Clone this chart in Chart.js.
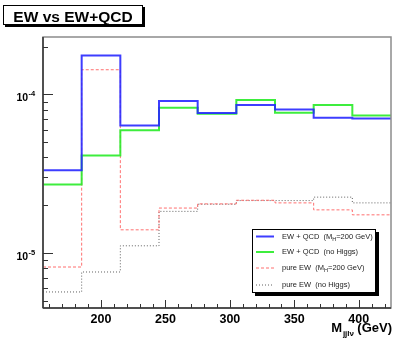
<!DOCTYPE html>
<html>
<head>
<meta charset="utf-8">
<script src="https://cdn.jsdelivr.net/npm/chart.js@4/dist/chart.umd.min.js"></script>
<style>
html, body { margin: 0; padding: 0; background: #fff; }
</style>
</head>
<body>
<canvas id="c" width="407" height="343"></canvas>
<script>
// bin edges in GeV, 9 bins of 30 GeV
const binEdges = [155, 185, 215, 245, 275, 305, 335, 365, 395, 425];

const ewQcdHiggs    = [3.32e-5, 1.76e-4, 6.37e-5, 9.07e-5, 7.62e-5, 8.56e-5, 8.04e-5, 7.13e-5, 7.05e-5];
const ewQcdNoHiggs  = [2.70e-5, 4.12e-5, 5.95e-5, 8.24e-5, 7.55e-5, 9.20e-5, 7.66e-5, 8.56e-5, 7.37e-5];
const pureEwHiggs   = [8.16e-6, 1.43e-4, 1.40e-5, 1.92e-5, 2.04e-5, 2.15e-5, 2.07e-5, 1.87e-5, 1.74e-5];
const pureEwNoHiggs = [5.68e-6, 7.59e-6, 1.11e-5, 1.83e-5, 2.03e-5, 2.14e-5, 2.14e-5, 2.25e-5, 2.07e-5];

const xTicks  = [160, 170, 180, 190, 200, 210, 220, 230, 240, 250, 260, 270, 280, 290, 300,
                 310, 320, 330, 340, 350, 360, 370, 380, 390, 400, 410, 420];
const xLabels = [200, 250, 300, 350, 400];
const yTicks  = [5e-6, 6e-6, 7e-6, 8e-6, 9e-6,
                 1e-5, 2e-5, 3e-5, 4e-5, 5e-5, 6e-5, 7e-5, 8e-5, 9e-5,
                 1e-4, 2e-4];
const yLabels = [{ value: 1e-5, exp: '-5' }, { value: 1e-4, exp: '-4' }];

const FONT = '"Liberation Sans", Arial, Helvetica, sans-serif';

// histogram as step line: value i holds from edge i to edge i+1
const histo = vals => binEdges.map((x, i) => ({ x, y: vals[Math.min(i, vals.length - 1)] }));

function line(ctx, x1, y1, x2, y2) {
    ctx.beginPath(); ctx.moveTo(x1, y1); ctx.lineTo(x2, y2); ctx.stroke();
}

const rootStyle = {
    id: 'rootStyle',
    afterDatasetsDraw(chart) {
        const { ctx, chartArea: a, scales: { x, y } } = chart;
        ctx.save();
        ctx.strokeStyle = '#8c8c8c'; ctx.lineWidth = 1.5;
        ctx.strokeRect(a.left, a.top, a.right - a.left, a.bottom - a.top);
        ctx.strokeStyle = '#333'; ctx.lineWidth = 1.5;
        line(ctx, a.left, a.top, a.left, a.bottom);
        line(ctx, a.left, a.bottom, a.right, a.bottom);

        ctx.lineWidth = 1;
        for (const t of x.ticks) {
            const px = Math.round(x.getPixelForValue(t.value)) + .5;
            const len = xLabels.includes(t.value) ? 8 : 4;
            line(ctx, px, a.bottom, px, a.bottom - len);
        }
        ctx.fillStyle = '#000';
        for (const t of y.ticks) {
            const py = Math.round(y.getPixelForValue(t.value)) + .5;
            const lab = yLabels.find(l => l.value === t.value);
            line(ctx, a.left, py, a.left + (lab ? 10 : 5), py);
            if (lab) {
                ctx.font = `bold 10.5px ${FONT}`;
                ctx.textAlign = 'left'; ctx.textBaseline = 'alphabetic';
                ctx.fillText('10', 16.5, py + 6.5);
                ctx.font = `bold 7.5px ${FONT}`;
                ctx.fillText(lab.exp, 28.5, py + 1.5);
            }
        }
        ctx.restore();
    },
    afterDraw(chart) {
        const { ctx } = chart;
        ctx.save();

        // title box
        ctx.fillStyle = '#000';
        ctx.fillRect(5, 7, 140, 20);
        ctx.fillStyle = '#fff';
        ctx.fillRect(3, 5, 140, 20);
        ctx.strokeStyle = '#000'; ctx.lineWidth = 1;
        ctx.strokeRect(3.5, 5.5, 139, 19);
        ctx.fillStyle = '#000';
        ctx.font = `bold 15.5px ${FONT}`;
        ctx.textAlign = 'center'; ctx.textBaseline = 'alphabetic';
        ctx.fillText('EW vs EW+QCD', 73, 21.5);

        // axis title  M_{jjl\nu} (GeV)
        ctx.textAlign = 'right';
        ctx.font = `bold 13px ${FONT}`;
        ctx.fillText('(GeV)', 392, 332);
        ctx.font = `bold 8px ${FONT}`;
        ctx.fillText('jjlν', 354, 336);
        ctx.font = `bold 13px ${FONT}`;
        ctx.fillText('M', 342, 332);

        // legend box
        const L = { x: 252, y: 229, w: 124, h: 64 };
        ctx.fillStyle = '#000';
        ctx.fillRect(L.x + 3, L.y + 3, L.w, L.h);
        ctx.fillStyle = '#fff';
        ctx.fillRect(L.x, L.y, L.w, L.h);
        ctx.strokeStyle = '#000'; ctx.lineWidth = 1;
        ctx.strokeRect(L.x + .5, L.y + .5, L.w - 1, L.h - 1);

        const rowsY = [236.5, 252, 268, 285];
        chart.data.datasets.forEach((ds, i) => {
            const yy = rowsY[i];
            ctx.strokeStyle = ds.borderColor;
            ctx.lineWidth = ds.borderWidth;
            ctx.setLineDash(ds.borderDash || []);
            line(ctx, 256, yy, 274, yy);
            ctx.setLineDash([]);
            ctx.fillStyle = '#222';
            ctx.textAlign = 'left'; ctx.textBaseline = 'middle';
            let tx = 282;
            for (const part of ds.legendParts) {
                ctx.font = `${part.sub ? 5.5 : 7.5}px ${FONT}`;
                ctx.fillText(part.t, tx, yy + (part.sub ? 2.5 : 0));
                tx += ctx.measureText(part.t).width;
            }
        });
        ctx.restore();
    }
};

new Chart(document.getElementById('c'), {
    type: 'line',
    data: {
        datasets: [
            {
                label: 'EW + QCD  (M_H=200 GeV)',
                legendParts: [{ t: 'EW + QCD  (M' }, { t: 'H', sub: true }, { t: '=200 GeV)' }],
                data: histo(ewQcdHiggs),
                borderColor: 'rgba(40,40,255,0.9)', borderWidth: 2, stepped: 'before'
            },
            {
                label: 'EW + QCD  (no Higgs)',
                legendParts: [{ t: 'EW + QCD  (no Higgs)' }],
                data: histo(ewQcdNoHiggs),
                borderColor: 'rgba(40,235,40,0.9)', borderWidth: 2, stepped: 'before'
            },
            {
                label: 'pure EW  (M_H=200 GeV)',
                legendParts: [{ t: 'pure EW  (M' }, { t: 'H', sub: true }, { t: '=200 GeV)' }],
                data: histo(pureEwHiggs),
                borderColor: '#ff6f6f', borderWidth: 1, borderDash: [3, 2], stepped: 'before'
            },
            {
                label: 'pure EW  (no Higgs)',
                legendParts: [{ t: 'pure EW  (no Higgs)' }],
                data: histo(pureEwNoHiggs),
                borderColor: '#606060', borderWidth: 1, borderDash: [1, 2], stepped: 'before'
            }
        ]
    },
    options: {
        responsive: false,
        animation: false,
        devicePixelRatio: 1,
        layout: { padding: { top: 37, right: 16, left: 0, bottom: 0 } },
        elements: { point: { radius: 0 }, line: { tension: 0 } },
        plugins: { legend: { display: false }, tooltip: { enabled: false } },
        scales: {
            x: {
                type: 'linear', min: 155, max: 425,
                afterBuildTicks: s => { s.ticks = xTicks.map(v => ({ value: v })); },
                afterFit: s => { s.height = 35; },
                grid: { display: false, drawTicks: false },
                border: { display: false },
                ticks: {
                    autoSkip: false, maxRotation: 0, padding: 4,
                    color: '#000', font: { family: FONT, size: 12.5, weight: 'bold' },
                    callback: v => xLabels.includes(v) ? String(v) : ''
                }
            },
            y: {
                type: 'logarithmic', min: 4.5e-6, max: 2.3e-4,
                afterBuildTicks: s => { s.ticks = yTicks.map(v => ({ value: v })); },
                afterFit: s => { s.width = 43; },
                grid: { display: false, drawTicks: false },
                border: { display: false },
                ticks: { display: false }
            }
        }
    },
    plugins: [rootStyle]
});
</script>
</body>
</html>
